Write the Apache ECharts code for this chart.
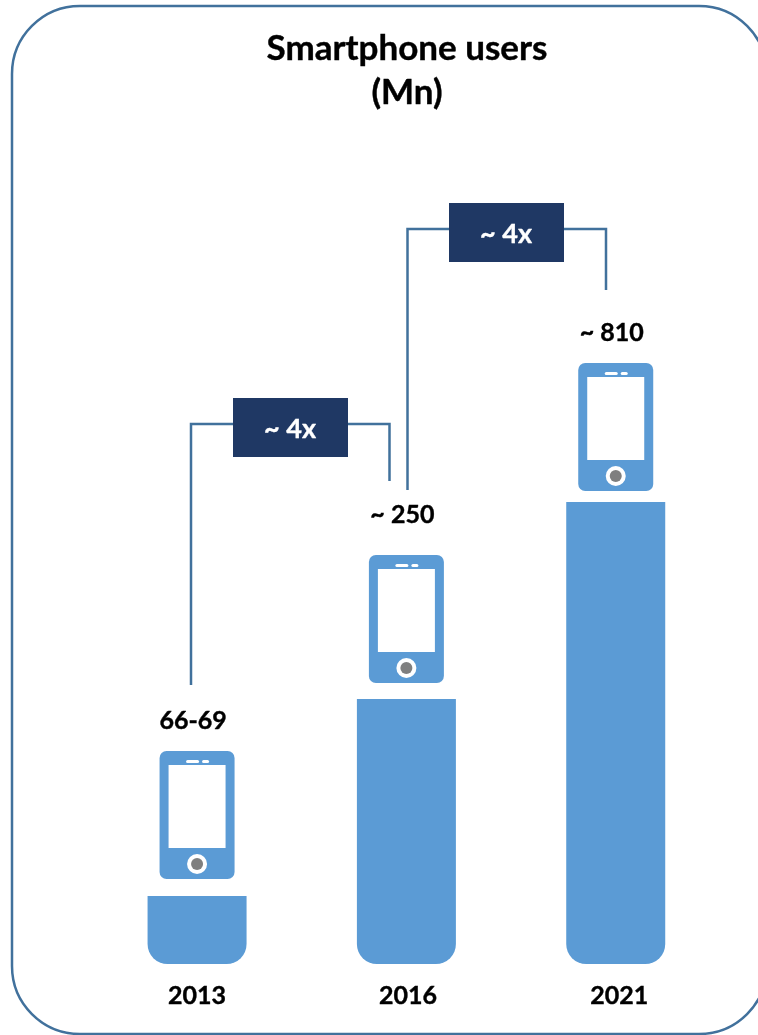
<!DOCTYPE html>
<html>
<head>
<meta charset="utf-8">
<style>html,body{margin:0;padding:0;background:#fff;overflow:hidden}#c{width:758px;height:1035px}</style>
<script src="https://cdn.jsdelivr.net/npm/echarts@6/dist/echarts.min.js"></script>
</head>
<body>
<div id="c"></div>
<script>
const categories = ['2013', '2016', '2021'];
const barHeights = [68, 265, 462];
const valueLabels = ['66-69', '~ 250', '~ 810'];
const growthLabels = ['~ 4x', '~ 4x'];
const titleLines = ['Smartphone users', '(Mn)'];

const BLUE = '#5b9bd5', NAVY = '#1f3864', LINE = '#41719c', FONT = 'Lato, Carlito, sans-serif';
const PHONE_GAP = [17, 16, 11];
const LABEL_GAP = [31, 41, 31];

function bracket(x1, yStart, yTop, x2, yEnd) {
  return { type: 'polyline', z: 5, silent: true,
    shape: { points: [[x1, yStart], [x1, yTop], [x2, yTop], [x2, yEnd]] },
    style: { fill: null, stroke: LINE, lineWidth: 2.5 } };
}
function badge(x, y, text) {
  return { type: 'group', z: 6, silent: true, x: x, y: y, children: [
    { type: 'rect', z: 6, shape: { width: 115, height: 59 }, style: { fill: NAVY } },
    { type: 'text', z: 7, x: 57, y: 31, style: { text: text, fill: '#fff', font: 'bold 27px ' + FONT, align: 'center', verticalAlign: 'middle', stroke: '#fff', lineWidth: 0.4 } }
  ] };
}

function renderPhone(params, api) {
  const i = params.dataIndex;
  const p = api.coord([api.value(0), api.value(1)]);
  const cx = p[0], bottom = p[1] - PHONE_GAP[i], top = bottom - 128;
  return { type: 'group', children: [
    { type: 'rect', shape: { x: cx - 37.5, y: top, width: 75, height: 128, r: 7 }, style: { fill: BLUE } },
    { type: 'rect', shape: { x: cx - 28.5, y: top + 14, width: 57, height: 83 }, style: { fill: '#fff' } },
    { type: 'rect', shape: { x: cx - 11, y: top + 9, width: 13, height: 3, r: 1.5 }, style: { fill: '#fff' } },
    { type: 'rect', shape: { x: cx + 5, y: top + 9, width: 7, height: 3, r: 1.5 }, style: { fill: '#fff' } },
    { type: 'circle', shape: { cx: cx, cy: top + 113, r: 10 }, style: { fill: '#fff' } },
    { type: 'circle', shape: { cx: cx, cy: top + 113, r: 6 }, style: { fill: '#7f7f7f' } },
    { type: 'text', x: cx - 4, y: top - LABEL_GAP[i] + 1, style: { text: valueLabels[i], fill: '#000', font: 'bold 25px ' + FONT, align: 'center', verticalAlign: 'middle', stroke: '#000', lineWidth: 0.4 } }
  ] };
}

const labelStyle = { fontFamily: FONT, fontWeight: 'bold', fontSize: 25, color: '#000', textBorderColor: '#000', textBorderWidth: 0.4 };

const chart = echarts.init(document.getElementById('c'), null, { renderer: 'canvas' });
chart.setOption({
  animation: false,
  backgroundColor: '#fff',
  title: {
    text: titleLines.join('\n'), left: 402, top: 22, textAlign: 'center',
    textStyle: { fontFamily: FONT, fontWeight: 'bold', fontSize: 35, lineHeight: 44, color: '#000', textBorderColor: '#000', textBorderWidth: 0.4 }
  },
  grid: { left: 92.4, width: 628, top: 0, height: 964, containLabel: false },
  xAxis: {
    type: 'category', data: categories,
    axisLine: { show: false }, axisTick: { show: false }, splitLine: { show: false },
    axisLabel: {
      margin: 19,
      formatter: (v, i) => '{l' + i + '|' + v + '}',
      rich: {
        l0: Object.assign({}, labelStyle),
        l1: Object.assign({ padding: [0, 0, 0, 3] }, labelStyle),
        l2: Object.assign({ padding: [0, 0, 0, 7] }, labelStyle)
      }
    }
  },
  yAxis: { type: 'value', min: 0, max: 964, show: false },
  series: [
    { type: 'bar', data: barHeights, barWidth: 99, itemStyle: { color: BLUE, borderRadius: [0, 0, 20, 20] }, silent: true },
    { type: 'custom', data: barHeights.map((v, i) => [i, v]), renderItem: renderPhone, silent: true, z: 4 }
  ],
  graphic: { elements: [
    { type: 'rect', z: 1, silent: true, shape: { x: 12, y: 6, width: 755, height: 1028, r: 68 },
      style: { fill: null, stroke: LINE, lineWidth: 2.5 } },
    bracket(191, 685, 424, 389.5, 481),
    bracket(407.5, 490, 229, 606, 290),
    badge(233, 398, growthLabels[0]),
    badge(449, 203, growthLabels[1])
  ] }
});
</script>
</body>
</html>
